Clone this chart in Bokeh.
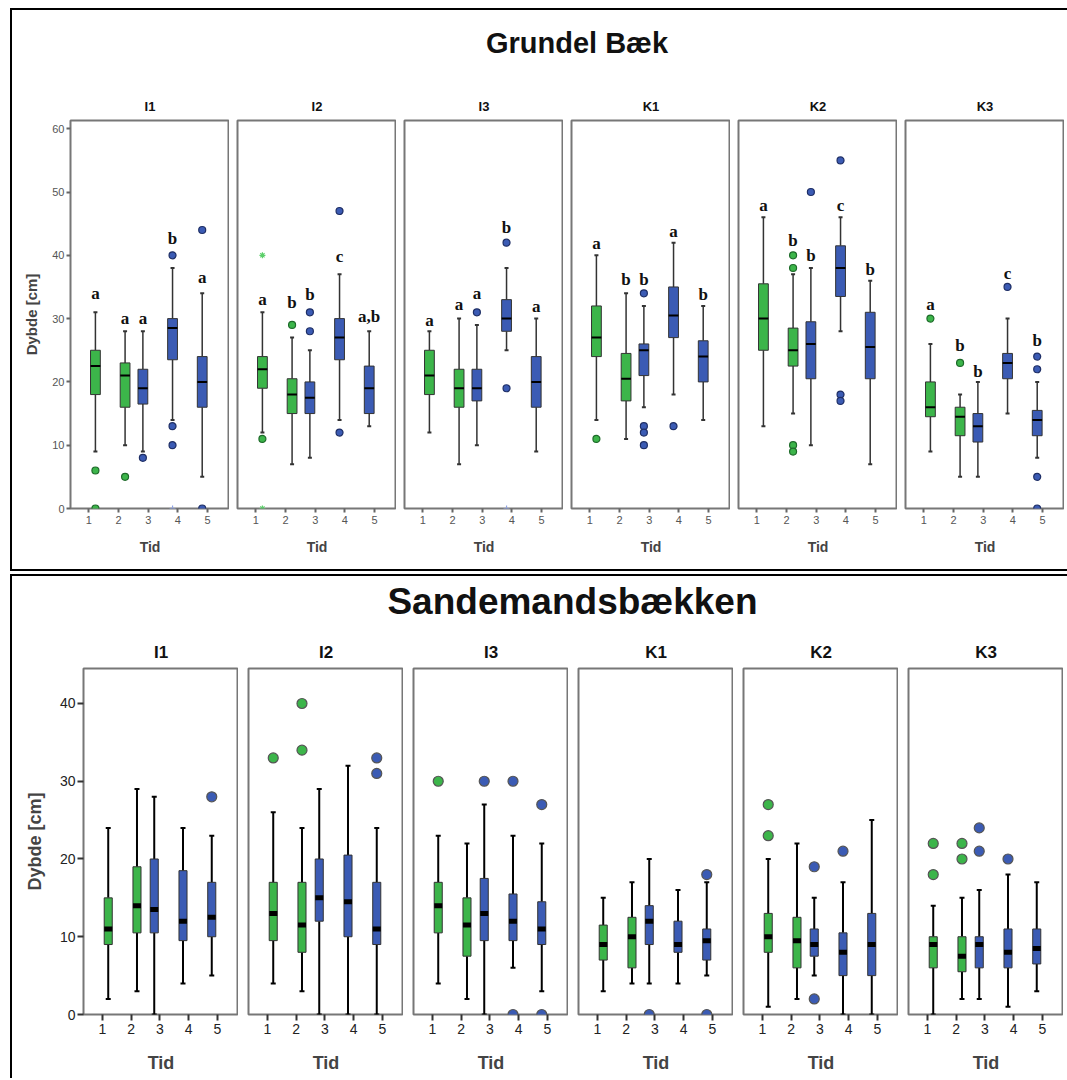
from bokeh.plotting import figure
from bokeh.layouts import row, column
from bokeh.models import Range1d, Div, Spacer, FixedTicker, ColumnDataSource
from bokeh.core.properties import value
from bokeh.embed import file_html
from bokeh.resources import INLINE

SITES = ["I1", "I2", "I3", "K1", "K2", "K3"]
TID = [1, 2, 3, 4, 5]

# ---------------- Grundel Bæk ----------------
GB_LOW = [[9, 10, 9, 14, 5], [12, 7, 8, 14, 13], [12, 7, 10, 25, 9],
          [14, 11, 16, 18, 14], [13, 15, 10, 28, 7], [9, 5, 5, 15, 8]]
GB_Q1 = [[18, 16, 16.5, 23.5, 16], [19, 15, 15, 23.5, 15], [18, 16, 17, 28, 16],
         [24, 17, 21, 27, 20], [25, 22.5, 20.5, 33.5, 20.5], [14.5, 11.5, 10.5, 20.5, 11.5]]
GB_MED = [[22.5, 21, 19, 28.5, 20], [22, 18, 17.5, 27, 19], [21, 19, 19, 30, 20],
          [27, 20.5, 25, 30.5, 24], [30, 25, 26, 38, 25.5], [16, 14.5, 13, 23, 14]]
GB_Q3 = [[25, 23, 22, 30, 24], [24, 20.5, 20, 30, 22.5], [25, 22, 22, 33, 24],
         [32, 24.5, 26, 35, 26.5], [35.5, 28.5, 29.5, 41.5, 31], [20, 16, 15, 24.5, 15.5]]
GB_HIGH = [[31, 28, 28, 38, 34], [31, 27, 25, 37, 28], [28, 30, 29, 38, 30],
           [40, 34, 32, 42, 32], [46, 37, 38, 46, 36], [26, 18, 20, 30, 20]]
GB_OUT = [
    [[6, 0], [5], [8], [40, 13, 10], [44, 0]],
    [[11], [29], [31, 28], [47, 12], []],
    [[], [], [31], [42, 19], []],
    [[11], [], [34, 13, 12, 10], [13], []],
    [[], [40, 38, 10, 9], [50], [55, 18, 17], []],
    [[30], [23], [], [35], [24, 22, 5, 0]],
]
GB_EXTREME = [
    [[], [], [], [0], []],
    [[40, 0], [], [], [], []],
    [[], [], [], [0], []],
    [[], [], [], [], []],
    [[], [], [], [], []],
    [[], [], [], [], []],
]
GB_LETTERS = [["a", "a", "a", "b", "a"], ["a", "b", "b", "c", "a,b"], ["a", "a", "a", "b", "a"],
              ["a", "b", "b", "a", "b"], ["a", "b", "b", "c", "b"], ["a", "b", "b", "c", "b"]]
GB_LETTER_Y = [[34, 30, 30, 42.7, 36.5], [33, 32.6, 33.8, 39.8, 30.3], [29.7, 32.3, 34, 44.4, 31.9],
               [41.9, 36.2, 36.2, 43.8, 33.8], [47.8, 42.4, 40, 47.8, 37.7], [32.3, 25.7, 21.6, 37.2, 26.6]]
GB_YTICKS = [0, 10, 20, 30, 40, 50, 60]

# ---------------- Sandemandsbækken ----------------
SB_LOW = [[2, 3, 0, 4, 5], [4, 3, 0, 0, 0], [4, 2, 0, 6, 3],
          [3, 4, 4, 4, 5], [1, 2, 5, 0, 0], [0, 2, 2, 1, 3]]
SB_Q1 = [[9, 10.5, 10.5, 9.5, 10], [9.5, 8, 12, 10, 9], [10.5, 7.5, 9.5, 9.5, 9],
         [7, 6, 9, 8, 7], [8, 6, 7.5, 5, 5], [6, 5.5, 6, 6, 6.5]]
SB_MED = [[11, 14, 13.5, 12, 12.5], [13, 11.5, 15, 14.5, 11], [14, 11.5, 13, 12, 11],
          [9, 10, 12, 9, 9.5], [10, 9.5, 9, 8, 9], [9, 7.5, 9, 8, 8.5]]
SB_Q3 = [[15, 19, 20, 18.5, 17], [17, 17, 20, 20.5, 17], [17, 15, 17.5, 15.5, 14.5],
         [11.5, 12.5, 14, 12, 11], [13, 12.5, 11, 10.5, 13], [10, 10, 10, 11, 11]]
SB_HIGH = [[24, 29, 28, 24, 23], [26, 24, 29, 32, 24], [23, 22, 27, 23, 22],
           [15, 17, 20, 16, 17], [20, 22, 15, 17, 25], [14, 15, 16, 18, 17]]
SB_OUT = [
    [[], [], [], [], [28]],
    [[33], [40, 34], [], [], [33, 31]],
    [[30], [], [30], [30, 0], [27, 0]],
    [[], [], [0], [], [18, 0]],
    [[27, 23], [], [19, 2], [21], []],
    [[22, 18], [22, 20], [24, 21], [20], []],
]
SB_YTICKS = [0, 10, 20, 30, 40]

GREEN = "#3cb54a"
BLUE = "#3b5bb4"
GREEN_DARK = "#1e6b2a"
BLUE_DARK = "#1f2f66"
FONT = "Liberation Sans"


def is_green(t):
    return t <= 2


def make_panel(i, first, cfg, low, q1, med, q3, high, out, extreme=None, letters=None, letter_y=None):
    xs = [t + (cfg["g_off"] if is_green(t) else cfg["b_off"]) for t in TID]
    fills = [GREEN if is_green(t) else BLUE for t in TID]
    width = (cfg["first_left"] if first else cfg["gap"]) + cfg["frame_w"]
    p = figure(width=width, height=cfg["top"] + cfg["frame_h"] + cfg["bottom"],
               x_range=Range1d(*cfg["xr"]), y_range=Range1d(0, cfg["ymax"]),
               output_backend="svg", toolbar_location=None,
               y_axis_location="left" if first else None,
               min_border_left=cfg["first_left"] if first else cfg["gap"],
               min_border_right=0, min_border_top=cfg["top"], min_border_bottom=cfg["bottom"],
               title=SITES[i])
    p.title.align = "center"
    p.title.text_font = FONT
    p.title.text_font_style = "bold"
    p.title.text_font_size = cfg["title_fs"]
    p.title.text_color = "#111111"
    p.title.standoff = cfg["title_standoff"]
    p.xgrid.visible = False
    p.ygrid.visible = False
    p.outline_line_color = "#777777"
    p.outline_line_width = 2
    p.background_fill_color = "white"

    xa = p.xaxis[0]
    xa.ticker = FixedTicker(ticks=TID)
    xa.minor_tick_line_color = None
    xa.major_tick_in = 0
    xa.major_tick_out = cfg["tick_out"]
    xa.major_tick_line_color = cfg["tick_color"]
    xa.major_tick_line_width = 2
    xa.axis_line_color = None
    xa.major_label_text_font = FONT
    xa.major_label_text_font_size = cfg["tick_fs"]
    xa.major_label_text_color = cfg["tick_label_color"]
    xa.major_label_standoff = 3
    xa.axis_label = "Tid"
    xa.axis_label_text_font = FONT
    xa.axis_label_text_font_style = "bold"
    xa.axis_label_text_font_size = cfg["label_fs"]
    xa.axis_label_standoff = cfg["xlabel_standoff"]
    if first:
        ya = p.yaxis[0]
        ya.ticker = FixedTicker(ticks=cfg["yticks"])
        ya.minor_tick_line_color = None
        ya.major_tick_in = 0
        ya.major_tick_out = cfg["tick_out"]
        ya.major_tick_line_color = cfg["tick_color"]
        ya.major_tick_line_width = 2
        ya.axis_line_color = None
        ya.major_label_text_font = FONT
        ya.major_label_text_font_size = cfg["ytick_fs"]
        ya.major_label_text_color = cfg["tick_label_color"]
        ya.major_label_standoff = 2
        ya.axis_label = "Dybde [cm]"
        ya.axis_label_text_font = FONT
        ya.axis_label_text_font_style = "bold"
        ya.axis_label_text_font_size = cfg["ylabel_fs"]
        ya.axis_label_standoff = cfg["ylabel_standoff"]

    src = ColumnDataSource(dict(x=xs, low=low, q1=q1, med=med, q3=q3, high=high, fill=fills))
    p.segment(x0="x", x1="x", y0="low", y1="q1", source=src, line_color=cfg["wcolor"], line_width=cfg["wwidth"])
    p.segment(x0="x", x1="x", y0="q3", y1="high", source=src, line_color=cfg["wcolor"], line_width=cfg["wwidth"])
    p.scatter(x="x", y="low", source=src, marker="dash", size=cfg["cap"], line_color=cfg["wcolor"], line_width=2)
    p.scatter(x="x", y="high", source=src, marker="dash", size=cfg["cap"], line_color=cfg["wcolor"], line_width=2)
    p.vbar(x="x", width=cfg["box_w"], bottom="q1", top="q3", source=src,
           fill_color="fill", line_color="#333333", line_width=1)
    if cfg["med_thick"]:
        p.rect(x="x", y="med", width=cfg["box_w"], height=cfg["med_h"], height_units="screen",
               source=src, fill_color="black", line_color=None)
    else:
        p.segment(x0=[x - cfg["box_w"] / 2 for x in xs], x1=[x + cfg["box_w"] / 2 for x in xs],
                  y0=med, y1=med, line_color="black", line_width=2)

    ox, oy, of, ol = [], [], [], []
    for k, t in enumerate(TID):
        for v in out[k]:
            ox.append(xs[k])
            oy.append(v)
            of.append(GREEN if is_green(t) else BLUE)
            ol.append(cfg["out_line"] if cfg["out_line"] else (GREEN_DARK if is_green(t) else BLUE_DARK))
    p.scatter(x=ox, y=oy, size=cfg["out_size"], fill_color=of, line_color=ol, line_width=1.2)

    if extreme is not None:
        ex, ey, ec, em = [], [], [], []
        for k, t in enumerate(TID):
            for v in extreme[k]:
                ex.append(xs[k])
                ey.append(v)
                ec.append("#5ccf6a" if is_green(t) else "#8fa3e6")
                em.append("asterisk" if is_green(t) else "cross")
        p.scatter(x=ex, y=ey, marker=em, size=6, line_color=ec, line_width=1.2)

    if letters is not None:
        p.text(x=xs, y=letter_y, text=letters, text_align="center", text_baseline="middle",
               text_font=value("Liberation Serif"), text_font_style="bold",
               text_font_size="17px", text_color="#111111")
    return p


TOP_CFG = dict(frame_w=159, frame_h=388, first_left=58, gap=8, top=39, bottom=61,
               xr=(0.38, 5.74), ymax=61.3, g_off=0.22, b_off=-0.18, box_w=0.33,
               title_fs="13px", title_standoff=14, tick_out=4, tick_color="#666666",
               tick_fs="11px", ytick_fs="11px", tick_label_color="#555555", label_fs="14px",
               xlabel_standoff=12, ylabel_fs="15px", ylabel_standoff=9, yticks=GB_YTICKS,
               wcolor="#333333", wwidth=1.5, cap=4, med_thick=False, med_h=3,
               out_size=7, out_line=None)

BOT_CFG = dict(frame_w=155, frame_h=346, first_left=71, gap=10, top=36, bottom=64,
               xr=(0.34, 5.73), ymax=44.5, g_off=0.2, b_off=-0.2, box_w=0.28,
               title_fs="17px", title_standoff=13, tick_out=6, tick_color="#333333",
               tick_fs="14px", ytick_fs="14px", tick_label_color="#222222", label_fs="18px",
               xlabel_standoff=16, ylabel_fs="18px", ylabel_standoff=12, yticks=SB_YTICKS,
               wcolor="#000000", wwidth=2, cap=5, med_thick=True, med_h=5,
               out_size=10, out_line="#555555")

top_figs = [make_panel(i, i == 0, TOP_CFG, GB_LOW[i], GB_Q1[i], GB_MED[i], GB_Q3[i], GB_HIGH[i],
                       GB_OUT[i], GB_EXTREME[i], GB_LETTERS[i], GB_LETTER_Y[i]) for i in range(6)]
bot_figs = [make_panel(i, i == 0, BOT_CFG, SB_LOW[i], SB_Q1[i], SB_MED[i], SB_Q3[i], SB_HIGH[i],
                       SB_OUT[i]) for i in range(6)]

top_title = Div(text='<div style="width:1052px;box-sizing:border-box;text-align:center;'
                     'font-family:\'Liberation Sans\';font-weight:bold;font-size:29px;'
                     'padding-top:8px;padding-left:68px;color:#111">Grundel Bæk</div>',
                width=1052, height=61)
bot_title = Div(text='<div style="width:1051px;box-sizing:border-box;text-align:center;'
                     'font-family:\'Liberation Sans\';font-weight:bold;font-size:37px;'
                     'margin-top:-5px;padding-left:60px;color:#111">Sandemandsbækken</div>',
                width=1051, height=46)

top_sec = column(top_title, row(*top_figs), styles={"border": "2px solid black"})
bot_sec = column(bot_title, row(*bot_figs), styles={"border": "2px solid black", "border-bottom": "none"})

root = row(Spacer(width=10), column(Spacer(height=8), top_sec, Spacer(height=3), bot_sec))

open("out.html", "w").write(file_html(root, INLINE))
